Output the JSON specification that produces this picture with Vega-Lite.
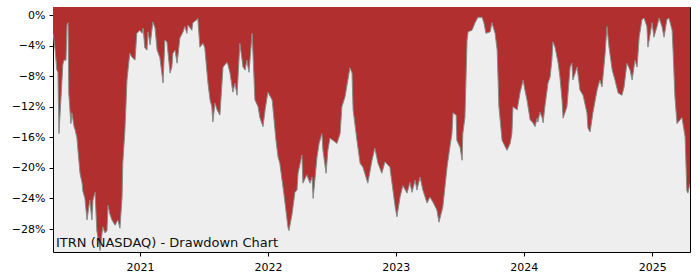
{
  "$schema": "https://vega.github.io/schema/vega-lite/v6.json",
  "width": 637,
  "height": 245,
  "autosize": {"type": "none"},
  "padding": {"left": 53, "top": 7, "right": 10, "bottom": 28},
  "background": "white",
  "config": {
    "view": {"stroke": "black", "strokeWidth": 1, "fill": "#eeeeee"},
    "axis": {
      "labelFont": "DejaVu Sans",
      "labelFontSize": 11,
      "labelColor": "black",
      "tickColor": "black",
      "tickSize": 4,
      "domain": false,
      "grid": false,
      "labelOverlap": false
    }
  },
  "data": {
    "values": [
      {"date": "2020-04-28", "dd": -2.4},
      {"date": "2020-05-04", "dd": -4.5},
      {"date": "2020-05-09", "dd": -7.2},
      {"date": "2020-05-12", "dd": -7.5},
      {"date": "2020-05-15", "dd": -15.5},
      {"date": "2020-05-21", "dd": -10.7},
      {"date": "2020-05-26", "dd": -6.5},
      {"date": "2020-05-29", "dd": -5.9},
      {"date": "2020-06-04", "dd": -5.9},
      {"date": "2020-06-07", "dd": -1.3},
      {"date": "2020-06-10", "dd": -1.0},
      {"date": "2020-06-12", "dd": -10.2},
      {"date": "2020-06-18", "dd": -14.2},
      {"date": "2020-06-21", "dd": -12.8},
      {"date": "2020-06-27", "dd": -14.6},
      {"date": "2020-06-30", "dd": -15.0},
      {"date": "2020-07-05", "dd": -16.0},
      {"date": "2020-07-14", "dd": -20.7},
      {"date": "2020-07-20", "dd": -22.0},
      {"date": "2020-07-22", "dd": -23.0},
      {"date": "2020-07-28", "dd": -24.0},
      {"date": "2020-08-03", "dd": -26.8},
      {"date": "2020-08-11", "dd": -24.2},
      {"date": "2020-08-17", "dd": -26.8},
      {"date": "2020-08-20", "dd": -24.2},
      {"date": "2020-08-26", "dd": -23.2},
      {"date": "2020-08-31", "dd": -28.2},
      {"date": "2020-09-09", "dd": -30.8},
      {"date": "2020-09-17", "dd": -27.7},
      {"date": "2020-09-23", "dd": -28.5},
      {"date": "2020-09-29", "dd": -28.2},
      {"date": "2020-10-02", "dd": -24.9},
      {"date": "2020-10-07", "dd": -26.0},
      {"date": "2020-10-13", "dd": -26.8},
      {"date": "2020-10-22", "dd": -27.5},
      {"date": "2020-10-30", "dd": -26.8},
      {"date": "2020-11-05", "dd": -27.9},
      {"date": "2020-11-11", "dd": -23.8},
      {"date": "2020-11-13", "dd": -19.4},
      {"date": "2020-11-19", "dd": -15.2},
      {"date": "2020-11-22", "dd": -12.0},
      {"date": "2020-11-25", "dd": -8.5},
      {"date": "2020-12-03", "dd": -5.0},
      {"date": "2020-12-09", "dd": -5.5},
      {"date": "2020-12-18", "dd": -5.9},
      {"date": "2020-12-23", "dd": -2.4},
      {"date": "2021-01-01", "dd": -2.0},
      {"date": "2021-01-07", "dd": -2.4},
      {"date": "2021-01-10", "dd": -1.7},
      {"date": "2021-01-15", "dd": -4.3},
      {"date": "2021-01-21", "dd": -4.6},
      {"date": "2021-01-24", "dd": -2.2},
      {"date": "2021-01-30", "dd": -3.9},
      {"date": "2021-02-07", "dd": -0.9},
      {"date": "2021-02-13", "dd": -1.7},
      {"date": "2021-02-19", "dd": -4.6},
      {"date": "2021-02-27", "dd": -5.6},
      {"date": "2021-03-08", "dd": -8.9},
      {"date": "2021-03-13", "dd": -3.3},
      {"date": "2021-03-19", "dd": -3.5},
      {"date": "2021-03-28", "dd": -7.6},
      {"date": "2021-04-02", "dd": -6.8},
      {"date": "2021-04-05", "dd": -5.0},
      {"date": "2021-04-11", "dd": -4.6},
      {"date": "2021-04-17", "dd": -6.3},
      {"date": "2021-04-25", "dd": -3.0},
      {"date": "2021-05-04", "dd": -2.2},
      {"date": "2021-05-09", "dd": -1.5},
      {"date": "2021-05-15", "dd": -2.4},
      {"date": "2021-05-18", "dd": -1.3},
      {"date": "2021-05-29", "dd": -2.0},
      {"date": "2021-06-01", "dd": -1.0},
      {"date": "2021-06-13", "dd": -0.6},
      {"date": "2021-06-15", "dd": -0.4},
      {"date": "2021-06-21", "dd": -4.2},
      {"date": "2021-06-30", "dd": -3.7},
      {"date": "2021-07-05", "dd": -4.3},
      {"date": "2021-07-14", "dd": -8.9},
      {"date": "2021-07-20", "dd": -11.1},
      {"date": "2021-07-25", "dd": -12.0},
      {"date": "2021-07-28", "dd": -14.0},
      {"date": "2021-08-03", "dd": -11.5},
      {"date": "2021-08-09", "dd": -12.4},
      {"date": "2021-08-17", "dd": -13.1},
      {"date": "2021-08-26", "dd": -6.8},
      {"date": "2021-09-06", "dd": -6.2},
      {"date": "2021-09-09", "dd": -6.5},
      {"date": "2021-09-15", "dd": -7.6},
      {"date": "2021-09-23", "dd": -10.1},
      {"date": "2021-09-29", "dd": -8.9},
      {"date": "2021-10-05", "dd": -10.5},
      {"date": "2021-10-13", "dd": -3.7},
      {"date": "2021-10-22", "dd": -6.8},
      {"date": "2021-10-28", "dd": -7.2},
      {"date": "2021-11-02", "dd": -5.9},
      {"date": "2021-11-08", "dd": -7.5},
      {"date": "2021-11-17", "dd": -2.4},
      {"date": "2021-11-25", "dd": -11.1},
      {"date": "2021-12-04", "dd": -12.0},
      {"date": "2021-12-09", "dd": -13.4},
      {"date": "2021-12-18", "dd": -14.6},
      {"date": "2021-12-24", "dd": -12.4},
      {"date": "2022-01-01", "dd": -10.1},
      {"date": "2022-01-13", "dd": -11.1},
      {"date": "2022-01-15", "dd": -12.0},
      {"date": "2022-01-24", "dd": -16.4},
      {"date": "2022-01-30", "dd": -18.6},
      {"date": "2022-02-04", "dd": -19.4},
      {"date": "2022-02-16", "dd": -23.5},
      {"date": "2022-02-27", "dd": -27.7},
      {"date": "2022-03-02", "dd": -28.2},
      {"date": "2022-03-11", "dd": -26.0},
      {"date": "2022-03-19", "dd": -23.2},
      {"date": "2022-03-25", "dd": -22.9},
      {"date": "2022-03-28", "dd": -20.7},
      {"date": "2022-04-08", "dd": -18.3},
      {"date": "2022-04-11", "dd": -22.0},
      {"date": "2022-04-22", "dd": -20.9},
      {"date": "2022-05-01", "dd": -22.0},
      {"date": "2022-05-07", "dd": -21.2},
      {"date": "2022-05-10", "dd": -24.0},
      {"date": "2022-05-21", "dd": -18.6},
      {"date": "2022-05-27", "dd": -16.8},
      {"date": "2022-06-04", "dd": -15.5},
      {"date": "2022-06-07", "dd": -17.7},
      {"date": "2022-06-16", "dd": -20.7},
      {"date": "2022-06-21", "dd": -17.7},
      {"date": "2022-06-27", "dd": -16.1},
      {"date": "2022-07-06", "dd": -16.4},
      {"date": "2022-07-17", "dd": -16.8},
      {"date": "2022-07-26", "dd": -15.5},
      {"date": "2022-07-31", "dd": -12.0},
      {"date": "2022-08-09", "dd": -10.7},
      {"date": "2022-08-17", "dd": -8.5},
      {"date": "2022-08-23", "dd": -6.9},
      {"date": "2022-08-29", "dd": -7.6},
      {"date": "2022-09-01", "dd": -12.4},
      {"date": "2022-09-12", "dd": -16.4},
      {"date": "2022-09-21", "dd": -19.4},
      {"date": "2022-09-29", "dd": -19.9},
      {"date": "2022-10-13", "dd": -22.0},
      {"date": "2022-10-25", "dd": -19.0},
      {"date": "2022-11-02", "dd": -17.4},
      {"date": "2022-11-11", "dd": -19.4},
      {"date": "2022-11-22", "dd": -20.7},
      {"date": "2022-12-01", "dd": -19.2},
      {"date": "2022-12-15", "dd": -19.9},
      {"date": "2022-12-30", "dd": -25.1},
      {"date": "2023-01-04", "dd": -26.4},
      {"date": "2023-01-13", "dd": -23.8},
      {"date": "2023-01-21", "dd": -22.3},
      {"date": "2023-02-02", "dd": -23.3},
      {"date": "2023-02-10", "dd": -21.9},
      {"date": "2023-02-16", "dd": -23.2},
      {"date": "2023-02-25", "dd": -21.6},
      {"date": "2023-03-02", "dd": -22.9},
      {"date": "2023-03-11", "dd": -21.2},
      {"date": "2023-03-19", "dd": -22.9},
      {"date": "2023-03-31", "dd": -24.6},
      {"date": "2023-04-08", "dd": -23.8},
      {"date": "2023-04-17", "dd": -24.5},
      {"date": "2023-04-28", "dd": -25.5},
      {"date": "2023-05-04", "dd": -27.1},
      {"date": "2023-05-15", "dd": -25.1},
      {"date": "2023-05-27", "dd": -19.9},
      {"date": "2023-06-04", "dd": -17.3},
      {"date": "2023-06-10", "dd": -15.5},
      {"date": "2023-06-13", "dd": -12.8},
      {"date": "2023-06-22", "dd": -13.1},
      {"date": "2023-06-24", "dd": -16.4},
      {"date": "2023-07-03", "dd": -17.3},
      {"date": "2023-07-09", "dd": -19.0},
      {"date": "2023-07-11", "dd": -15.5},
      {"date": "2023-07-17", "dd": -13.4},
      {"date": "2023-07-23", "dd": -3.3},
      {"date": "2023-07-26", "dd": -2.2},
      {"date": "2023-08-06", "dd": -2.0},
      {"date": "2023-08-15", "dd": -1.0},
      {"date": "2023-08-23", "dd": -0.3},
      {"date": "2023-09-04", "dd": -0.3},
      {"date": "2023-09-09", "dd": -1.0},
      {"date": "2023-09-15", "dd": -2.4},
      {"date": "2023-09-27", "dd": -2.2},
      {"date": "2023-10-02", "dd": -1.0},
      {"date": "2023-10-11", "dd": -2.4},
      {"date": "2023-10-17", "dd": -4.6},
      {"date": "2023-10-22", "dd": -12.0},
      {"date": "2023-10-31", "dd": -16.4},
      {"date": "2023-11-14", "dd": -17.7},
      {"date": "2023-11-23", "dd": -16.8},
      {"date": "2023-11-28", "dd": -15.5},
      {"date": "2023-12-01", "dd": -12.0},
      {"date": "2023-12-13", "dd": -12.4},
      {"date": "2023-12-21", "dd": -10.2},
      {"date": "2023-12-30", "dd": -8.5},
      {"date": "2024-01-04", "dd": -9.8},
      {"date": "2024-01-10", "dd": -11.1},
      {"date": "2024-01-19", "dd": -13.7},
      {"date": "2024-01-27", "dd": -14.1},
      {"date": "2024-02-02", "dd": -14.6},
      {"date": "2024-02-08", "dd": -13.5},
      {"date": "2024-02-10", "dd": -14.0},
      {"date": "2024-02-16", "dd": -12.7},
      {"date": "2024-02-22", "dd": -13.4},
      {"date": "2024-02-25", "dd": -14.1},
      {"date": "2024-03-01", "dd": -12.0},
      {"date": "2024-03-10", "dd": -8.9},
      {"date": "2024-03-16", "dd": -8.1},
      {"date": "2024-03-21", "dd": -5.9},
      {"date": "2024-03-24", "dd": -3.5},
      {"date": "2024-03-30", "dd": -4.2},
      {"date": "2024-04-08", "dd": -6.3},
      {"date": "2024-04-13", "dd": -8.1},
      {"date": "2024-04-19", "dd": -11.1},
      {"date": "2024-04-22", "dd": -13.5},
      {"date": "2024-05-03", "dd": -12.0},
      {"date": "2024-05-12", "dd": -6.8},
      {"date": "2024-05-17", "dd": -6.3},
      {"date": "2024-05-20", "dd": -8.5},
      {"date": "2024-06-01", "dd": -6.8},
      {"date": "2024-06-09", "dd": -9.8},
      {"date": "2024-06-18", "dd": -10.5},
      {"date": "2024-06-29", "dd": -12.8},
      {"date": "2024-07-02", "dd": -14.8},
      {"date": "2024-07-08", "dd": -15.3},
      {"date": "2024-07-16", "dd": -12.8},
      {"date": "2024-07-28", "dd": -9.8},
      {"date": "2024-08-05", "dd": -8.5},
      {"date": "2024-08-11", "dd": -9.4},
      {"date": "2024-08-20", "dd": -5.0},
      {"date": "2024-08-25", "dd": -1.5},
      {"date": "2024-08-31", "dd": -4.2},
      {"date": "2024-09-09", "dd": -7.2},
      {"date": "2024-09-17", "dd": -8.5},
      {"date": "2024-09-26", "dd": -10.2},
      {"date": "2024-10-07", "dd": -10.5},
      {"date": "2024-10-13", "dd": -9.4},
      {"date": "2024-10-21", "dd": -6.3},
      {"date": "2024-10-30", "dd": -7.2},
      {"date": "2024-11-05", "dd": -8.5},
      {"date": "2024-11-13", "dd": -5.9},
      {"date": "2024-11-19", "dd": -6.8},
      {"date": "2024-11-25", "dd": -2.9},
      {"date": "2024-12-03", "dd": -0.6},
      {"date": "2024-12-09", "dd": -0.4},
      {"date": "2024-12-17", "dd": -1.5},
      {"date": "2024-12-20", "dd": -4.2},
      {"date": "2025-01-01", "dd": -1.0},
      {"date": "2025-01-06", "dd": -2.9},
      {"date": "2025-01-15", "dd": -1.5},
      {"date": "2025-01-21", "dd": -0.4},
      {"date": "2025-01-29", "dd": -1.5},
      {"date": "2025-02-04", "dd": -2.9},
      {"date": "2025-02-12", "dd": -0.6},
      {"date": "2025-02-18", "dd": -0.4},
      {"date": "2025-02-27", "dd": -2.0},
      {"date": "2025-03-02", "dd": -5.0},
      {"date": "2025-03-07", "dd": -10.7},
      {"date": "2025-03-13", "dd": -14.2},
      {"date": "2025-03-22", "dd": -13.7},
      {"date": "2025-03-27", "dd": -13.4},
      {"date": "2025-04-05", "dd": -15.9},
      {"date": "2025-04-10", "dd": -23.0},
      {"date": "2025-04-13", "dd": -23.3},
      {"date": "2025-04-19", "dd": -22.0}
    ]
  },
  "layer": [
    {
      "mark": {"type": "area", "color": "#b22f2f", "clip": true},
      "encoding": {
        "x": {
          "field": "date",
          "type": "temporal",
          "title": null,
          "scale": {"domain": ["2020-04-28", "2025-04-19"]},
          "axis": {"format": "%Y", "tickCount": {"interval": "year", "step": 1}, "labelPadding": 5, "labelFlush": false, "labelOverlap": false}
        },
        "y": {
          "field": "dd",
          "type": "quantitative",
          "title": null,
          "scale": {"domain": [-31.0, 1.05], "nice": false, "zero": false},
          "axis": {"values": [-28, -24, -20, -16, -12, -8, -4, 0], "labelExpr": "replace(format(datum.value, 'd'), '-', '−') + '%'", "labelPadding": 4, "labelOverlap": false, "labelFlush": false}
        },
        "y2": {"datum": 1.05}
      }
    },
    {
      "mark": {"type": "line", "color": "#8a8a8a", "strokeWidth": 1, "clip": true},
      "encoding": {
        "x": {
          "field": "date",
          "type": "temporal",
          "title": null,
          "axis": {"format": "%Y", "tickCount": {"interval": "year", "step": 1}, "labelPadding": 5, "labelFlush": false, "labelOverlap": false}
        },
        "y": {
          "field": "dd",
          "type": "quantitative",
          "title": null,
          "axis": {"values": [-28, -24, -20, -16, -12, -8, -4, 0], "labelExpr": "replace(format(datum.value, 'd'), '-', '−') + '%'", "labelPadding": 4, "labelOverlap": false, "labelFlush": false}
        }
      }
    },
    {
      "data": {"values": [{"label": "ITRN (NASDAQ) - Drawdown Chart"}]},
      "mark": {"type": "rect", "color": "#b4b4b4", "clip": true},
      "encoding": {
        "x": {
          "datum": "2020-04-28",
          "type": "temporal",
          "title": null,
          "axis": {"format": "%Y", "tickCount": {"interval": "year", "step": 1}, "labelPadding": 5, "labelFlush": false, "labelOverlap": false}
        },
        "x2": {"datum": "2022-03-22"},
        "y": {
          "datum": -28.5,
          "type": "quantitative",
          "title": null,
          "axis": {"values": [-28, -24, -20, -16, -12, -8, -4, 0], "labelExpr": "replace(format(datum.value, 'd'), '-', '−') + '%'", "labelPadding": 4, "labelOverlap": false, "labelFlush": false}
        },
        "y2": {"datum": -31.0}
      }
    },
    {
      "data": {"values": [{"label": "ITRN (NASDAQ) - Drawdown Chart"}]},
      "mark": {"type": "text", "align": "left", "baseline": "middle", "dx": 3, "dy": 1, "font": "DejaVu Sans", "fontSize": 13, "color": "#111111"},
      "encoding": {
        "x": {
          "datum": "2020-04-28",
          "type": "temporal",
          "title": null,
          "axis": {"format": "%Y", "tickCount": {"interval": "year", "step": 1}, "labelPadding": 5, "labelFlush": false, "labelOverlap": false}
        },
        "y": {
          "datum": -29.75,
          "type": "quantitative",
          "title": null,
          "axis": {"values": [-28, -24, -20, -16, -12, -8, -4, 0], "labelExpr": "replace(format(datum.value, 'd'), '-', '−') + '%'", "labelPadding": 4, "labelOverlap": false, "labelFlush": false}
        },
        "text": {"field": "label"}
      }
    }
  ]
}
